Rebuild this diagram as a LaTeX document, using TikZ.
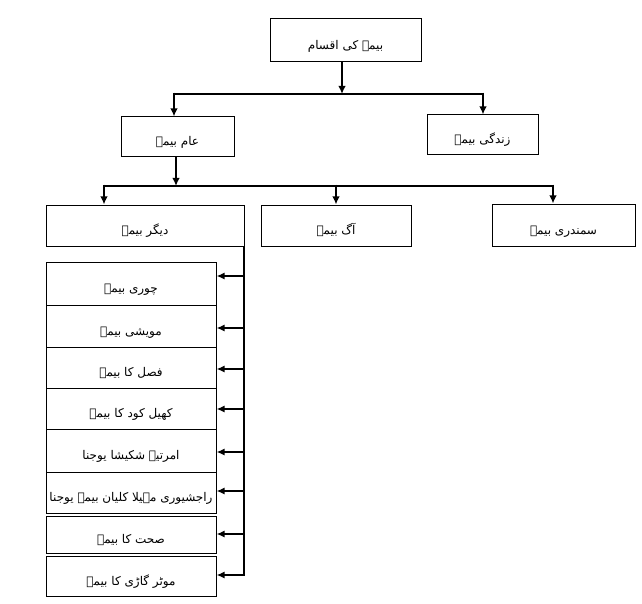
\documentclass[tikz,border=0pt]{standalone}
\usepackage{fontspec}
\newfontfamily\urdu[Script=Arabic]{DejaVu Sans}
\TeXXeTstate=1
\usetikzlibrary{arrows.meta}
\begin{document}
\begin{tikzpicture}[x=1pt,y=-1pt,
  box/.style={draw, line width=1pt, inner sep=0pt, text height=18pt, text depth=0pt, font=\urdu\fontsize{12}{14}\selectfont},
  conn/.style={line width=2.7pt},
  arr/.style={line width=2.7pt, -{Latex[length=8pt,width=7.5pt]}},
  larr/.style={line width=2.3pt, -{Latex[length=8pt,width=7pt]}}]
\useasboundingbox (0,0) rectangle (642,604);
% level 0
\node[box, minimum width=151pt, minimum height=43pt] (top) at (345.5,40.5) {\beginR بیمہ کی اقسام\endR};
% level 1
\node[box, minimum width=113pt, minimum height=40pt] (aam) at (177.5,137) {\beginR عام بیمہ\endR};
\node[box, minimum width=111pt, minimum height=40pt] (zin) at (482.5,135) {\beginR زندگی بیمہ\endR};
% level 2
\node[box, minimum width=198pt, minimum height=41pt] (dig) at (145,225.5) {\beginR دیگر بیمہ\endR};
\node[box, minimum width=150pt, minimum height=41pt] (aag) at (336,225.5) {\beginR آگ بیمہ\endR};
\node[box, minimum width=143pt, minimum height=42pt] (sam) at (563.5,225) {\beginR سمندری بیمہ\endR};
% list
\node[box, minimum width=170pt, minimum height=43pt] (b1) at (131,283.5) {\beginR چوری بیمہ\endR};
\node[box, minimum width=170pt, minimum height=42pt] (b2) at (131,326) {\beginR مویشی بیمہ\endR};
\node[box, minimum width=170pt, minimum height=41pt] (b3) at (131,367.5) {\beginR فصل کا بیمہ\endR};
\node[box, minimum width=170pt, minimum height=41pt] (b4) at (131,408.5) {\beginR کھیل کود کا بیمہ\endR};
\node[box, minimum width=170pt, minimum height=43pt] (b5) at (131,450.5) {\beginR امرتیہ شکیشا یوجنا\endR};
\node[box, minimum width=170pt, minimum height=41.5pt] (b6) at (131,492.75) {\beginR راجشیوری مہیلا کلیان بیمہ یوجنا\endR};
\node[box, minimum width=170pt, minimum height=37.5pt] (b7) at (131,534.75) {\beginR صحت کا بیمہ\endR};
\node[box, minimum width=170pt, minimum height=40pt] (b8) at (131,576) {\beginR موٹر گاڑی کا بیمہ\endR};
% junction coordinates
\coordinate (j1) at (342,94);
\coordinate (j1l) at (174,94);
\coordinate (j1r) at (483,94);
\coordinate (j2) at (176,186);
\coordinate (j2l) at (104,186);
\coordinate (j2m) at (336,186);
\coordinate (j2r) at (553,186);
\coordinate (vtop) at (244,245.5);
\coordinate (v1) at (244,276);
\coordinate (v2) at (244,328);
\coordinate (v3) at (244,369);
\coordinate (v4) at (244,409);
\coordinate (v5) at (244,452);
\coordinate (v6) at (244,491);
\coordinate (v7) at (244,534);
\coordinate (v8) at (244,575);
% connectors level 0 -> 1
\draw[arr] (top.south -| j1) -- (j1);
\draw[conn] (j1l) -- (j1r);
\draw[arr] ([yshift=1.35pt]j1l) -- (j1l |- aam.north);
\draw[arr] ([yshift=1.35pt]j1r) -- (j1r |- zin.north);
% level 1 -> 2
\draw[arr] (aam.south -| j2) -- (j2);
\draw[conn] (j2l) -- (j2r);
\draw[arr] ([yshift=1.35pt]j2l) -- (j2l |- dig.north);
\draw[arr] ([yshift=1.35pt]j2m) -- (j2m |- aag.north);
\draw[arr] ([yshift=1.35pt]j2r) -- (j2r |- sam.north);
% list
\draw[conn] (vtop) -- ([yshift=-1.15pt]v8);
\foreach \i in {1,...,8}{
  \draw[larr] (v\i) -- (b\i.east |- v\i);
}
\end{tikzpicture}
\end{document}
